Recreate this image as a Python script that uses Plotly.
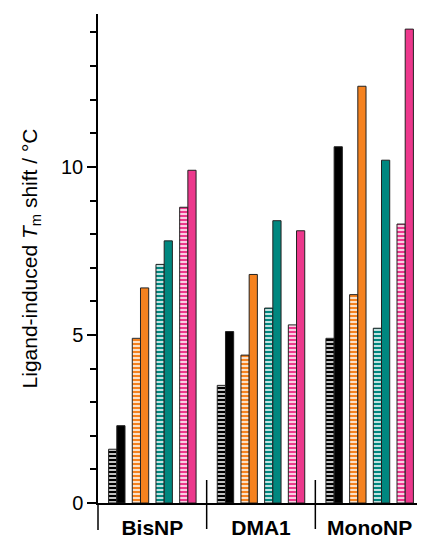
import plotly.graph_objects as go

categories = ["BisNP", "DMA1", "MonoNP"]

black_hatched = [1.6, 3.5, 4.9]
black_solid = [2.3, 5.1, 10.6]
orange_hatched = [4.9, 4.4, 6.2]
orange_solid = [6.4, 6.8, 12.4]
teal_hatched = [7.1, 5.8, 5.2]
teal_solid = [7.8, 8.4, 10.2]
pink_hatched = [8.8, 5.3, 8.3]
pink_solid = [9.9, 8.1, 14.1]

pairs = [
    ("Black", "#000000", black_hatched, black_solid),
    ("Orange", "#F5821F", orange_hatched, orange_solid),
    ("Teal", "#00877F", teal_hatched, teal_solid),
    ("Pink", "#EC388C", pink_hatched, pink_solid),
]

FONT = "Liberation Sans, Arial, sans-serif"
bar_w = 0.0755
pair_step = 0.218
start = -(3 * pair_step + 2 * bar_w) / 2

fig = go.Figure()
for k, (name, color, hv, sv) in enumerate(pairs):
    off = start + k * pair_step
    fig.add_trace(go.Bar(
        x=categories, y=hv, name=name + " (hatched)",
        width=bar_w, offset=off,
        marker=dict(color="white",
                    line=dict(color="#222222", width=1),
                    pattern=dict(shape="-", fgcolor=color, bgcolor="white",
                                 size=4, solidity=0.62, fillmode="replace")),
        showlegend=False,
    ))
    fig.add_trace(go.Bar(
        x=categories, y=sv, name=name,
        width=bar_w, offset=off + bar_w,
        marker=dict(color=color, line=dict(color="#222222", width=1)),
        showlegend=False,
    ))

# page body has an 8px margin, so the figure is sized/offset to compensate
W, H = 417, 530
ML, MR, MT, MB = 90, 1, 6, 35
plot_h = H - MT - MB
shapes = []
# extend y axis below baseline
shapes.append(dict(type="line", xref="x domain", yref="y domain",
                   x0=0, x1=0, y0=0, y1=-27 / plot_h,
                   line=dict(color="black", width=1.5)))
n = len(categories)
for i in range(1, n + 1):
    shapes.append(dict(type="line", xref="x domain", yref="y domain",
                       x0=i / n, x1=i / n, y0=-26 / plot_h, y1=23 / plot_h,
                       line=dict(color="black", width=1.5)))

fig.update_layout(
    width=W, height=H,
    margin=dict(l=ML, r=MR, t=MT, b=MB, autoexpand=False),
    paper_bgcolor="white", plot_bgcolor="white",
    barmode="overlay",
    font=dict(family=FONT, color="black"),
    shapes=shapes,
    xaxis=dict(
        range=[-0.5, n - 0.5], automargin=False,
        showline=True, linecolor="black", linewidth=1.5,
        showgrid=False, zeroline=False,
        ticks="", ticklabelstandoff=5,
        tickfont=dict(family=FONT, size=21, color="black", weight="bold"),
    ),
    yaxis=dict(
        range=[0, 14.55], automargin=False,
        showline=True, linecolor="black", linewidth=1.5,
        showgrid=False, zeroline=False,
        tickmode="linear", tick0=0, dtick=5,
        ticks="outside", ticklen=9, tickwidth=1.5, tickcolor="black",
        minor=dict(dtick=1, ticks="outside", ticklen=6, tickwidth=1.5, tickcolor="black"),
        tickfont=dict(family=FONT, size=20, color="black"),
        title=dict(text="Ligand-induced <i>T</i><sub>m</sub> shift / °C",
                   font=dict(family=FONT, size=21, color="black"), standoff=18),
    ),
)

fig.write_html("out.html")
